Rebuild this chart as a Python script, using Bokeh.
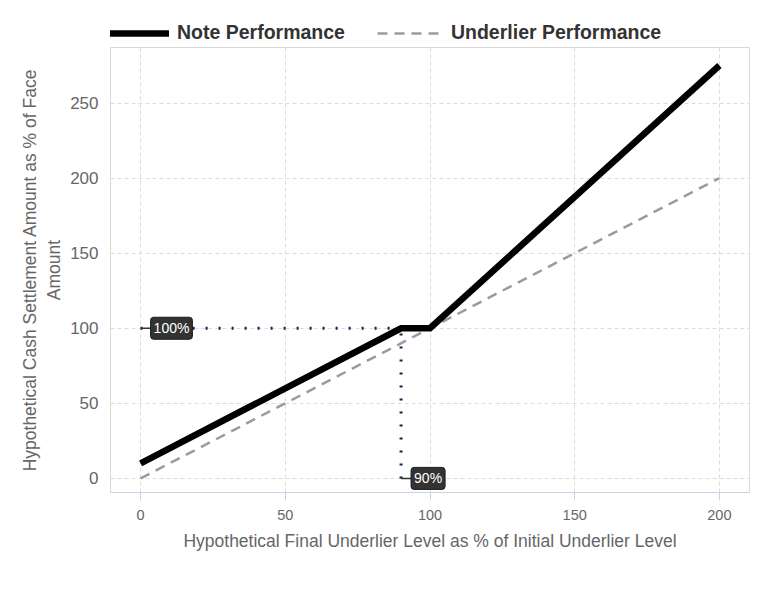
from bokeh.plotting import figure
from bokeh.layouts import column
from bokeh.models import ColumnDataSource, Legend, LegendItem, Range1d, FixedTicker
from bokeh.core.properties import value
from bokeh.embed import file_html
from bokeh.resources import INLINE

# Data
note_x = [0, 90, 100, 200]
note_y = [10, 100, 100, 275]
under_x = [0, 200]
under_y = [0, 200]
cap_level = 100
barrier_level = 90
x_ticks = [0, 50, 100, 150, 200]
y_ticks = [0, 50, 100, 150, 200, 250]
label_100 = "100%"
label_90 = "90%"
series_names = ["Note Performance", "Underlier Performance"]

FONT = "Liberation Sans"
NOTE_STYLE = dict(line_color="black", line_width=6.5)
UNDER_STYLE = dict(line_color="#9a9aa6", line_width=2.5, line_dash="10 7")

p = figure(width=760, height=531, output_backend="svg", toolbar_location=None,
           x_range=Range1d(-10.4, 210.4), y_range=Range1d(-9.4, 287),
           min_border_left=110, min_border_right=11, min_border_bottom=86, min_border_top=0,
           background_fill_color="white", border_fill_color="white")

p.outline_line_color = "#d9d9d9"
p.outline_line_width = 1

# grids
for g in (p.xgrid, p.ygrid):
    g.grid_line_color = "#dcdcdc"
    g.grid_line_dash = "4 3"
    g.grid_line_width = 1
p.xgrid.ticker = FixedTicker(ticks=x_ticks)
p.ygrid.ticker = FixedTicker(ticks=y_ticks)

# axes
p.xaxis.ticker = FixedTicker(ticks=x_ticks)
p.yaxis.ticker = FixedTicker(ticks=y_ticks)
p.xaxis.axis_line_color = "#c8d4e6"
p.xaxis.major_tick_line_color = "#c8d4e6"
p.xaxis.major_tick_out = 8
p.xaxis.major_tick_in = 0
p.xaxis.minor_tick_line_color = None
p.yaxis.axis_line_color = None
p.yaxis.major_tick_line_color = None
p.yaxis.minor_tick_line_color = None
p.xaxis.major_label_text_font = FONT
p.yaxis.major_label_text_font = FONT
p.xaxis.major_label_text_font_size = "14.5px"
p.yaxis.major_label_text_font_size = "17px"
p.xaxis.major_label_text_color = "#666666"
p.yaxis.major_label_text_color = "#666666"
p.yaxis.major_label_standoff = 6
p.xaxis.major_label_standoff = 9
p.xaxis.axis_label = "Hypothetical Final Underlier Level as % of Initial Underlier Level"
p.yaxis.axis_label = "Hypothetical Cash Settlement Amount as % of Face\nAmount"
for ax in (p.xaxis, p.yaxis):
    ax.axis_label_text_font = FONT
    ax.axis_label_text_font_size = "17.5px"
    ax.axis_label_text_font_style = "normal"
    ax.axis_label_text_color = "#666666"
p.xaxis.axis_label_standoff = 8
p.yaxis.axis_label_standoff = 3

# dotted reference lines
p.line([under_x[0], barrier_level], [cap_level, cap_level], line_color="#14204a",
       line_width=3, line_dash="2 11")
p.line([barrier_level, barrier_level], [0, cap_level], line_color="#14204a",
       line_width=3, line_dash="2 11")

# series
p.line(under_x, under_y, **UNDER_STYLE)
p.line(note_x, note_y, line_join="miter", **NOTE_STYLE)

# leader lines for labels
px_per_unit = 579 / 200.0
lead = 10 / px_per_unit
p.segment(x0=[0, barrier_level], y0=[cap_level, 0], x1=[lead, barrier_level + lead],
          y1=[cap_level, 0], line_color="#333333", line_width=1.5)

lab_src = ColumnDataSource(dict(x=[0, barrier_level], y=[cap_level, 0], t=[label_100, label_90]))
p.text(x="x", y="y", text="t", source=lab_src, x_offset=10, anchor="center_left",
       text_color="white", text_font=value(FONT), text_font_size="14px",
       background_fill_color="#333333", border_line_color="#1a1a1a",
       padding=3, border_radius=3)

# legend strip on top (series drawn out of view; only the legend shows)
leg = figure(width=760, height=47, output_backend="svg", toolbar_location=None,
             x_range=Range1d(0, 1), y_range=Range1d(1000, 1001),
             min_border=0, min_border_left=0, min_border_right=0,
             min_border_top=0, min_border_bottom=0,
             background_fill_color="white", border_fill_color="white")
leg.axis.visible = False
leg.grid.visible = False
leg.outline_line_color = None
r_note = leg.line(note_x, note_y, **NOTE_STYLE)
r_under = leg.line(under_x, under_y, **UNDER_STYLE)
legend = Legend(items=[LegendItem(label=series_names[0], renderers=[r_note]),
                       LegendItem(label=series_names[1], renderers=[r_under])],
                orientation="horizontal", location=(-7, 3),
                label_text_font=FONT, label_text_font_size="19.5px", label_text_font_style="bold",
                label_text_color="#333333", glyph_width=66, glyph_height=16,
                spacing=32, padding=3, margin=0, border_line_color=None,
                background_fill_alpha=0, label_standoff=8)
leg.add_layout(legend, "center")

layout = column(leg, p, spacing=0)
open("out.html", "w").write(file_html(layout, INLINE))
